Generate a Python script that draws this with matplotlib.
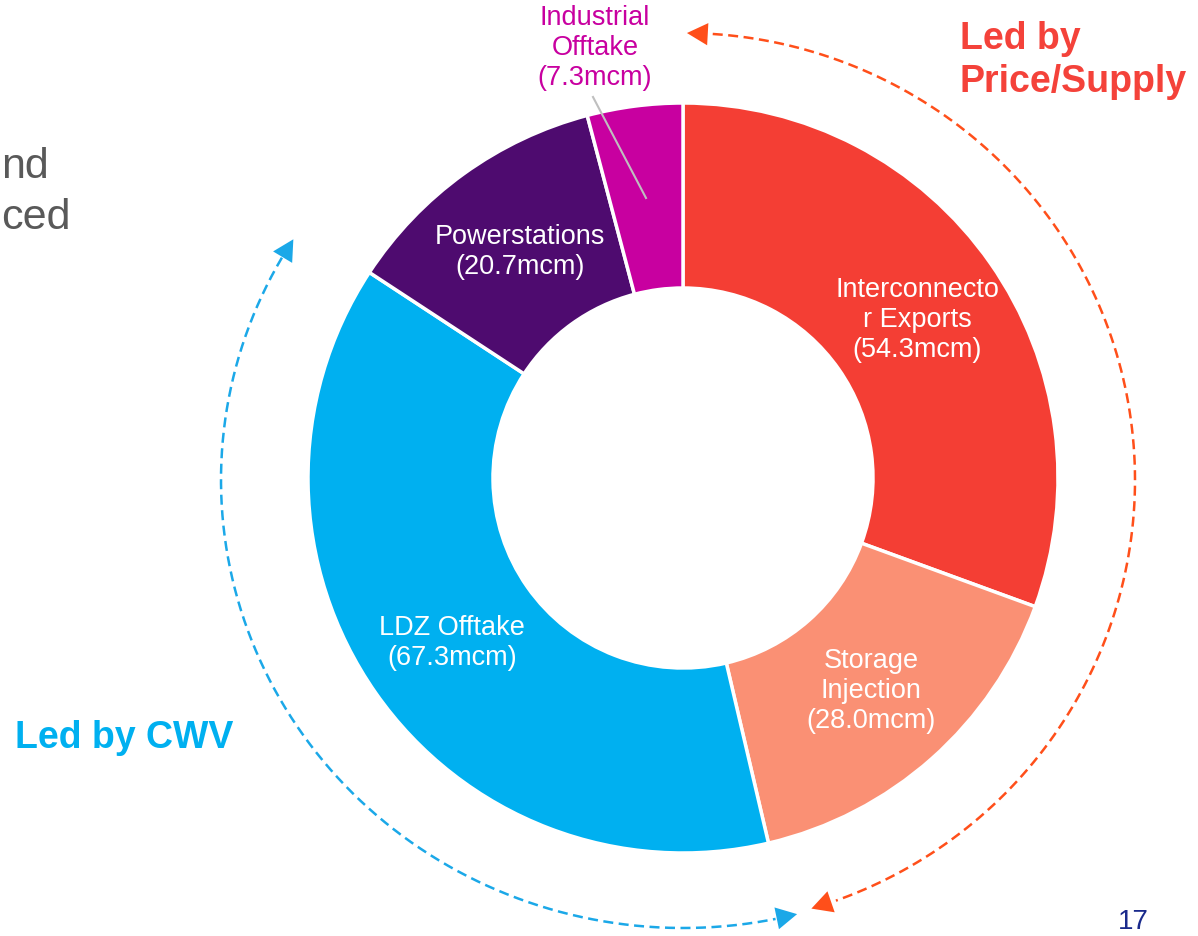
import numpy as np
import matplotlib.pyplot as plt

plt.rcParams['font.family'] = ['Liberation Sans', 'DejaVu Sans']

# demand split (mcm)
labels = ['Interconnecto\nr Exports', 'Storage\nInjection', 'LDZ Offtake',
          'Powerstations', 'Industrial\nOfftake']
values = [54.3, 28.0, 67.3, 20.7, 7.3]
colors = ['#F43E34', '#FA9074', '#00B0F0', '#4E0B6F', '#C800A0']
txt_colors = ['white', 'white', 'white', 'white', '#C800A0']
# label positions (pixels, image coords)
label_xy = [(917, 320), (871, 691), (452, 643), (520, 252), (595, 48)]

W, H = 1198, 936
cx, cy = 683, 478
R = 375

fig = plt.figure(figsize=(W / 100, H / 100), dpi=100)
ax = fig.add_axes([0, 0, 1, 1])

ax.pie(values, colors=colors, startangle=-90, counterclock=True,
       center=(cx, cy), radius=R,
       wedgeprops=dict(width=R - 190, edgecolor='white', linewidth=2.5))

ax.set_xlim(0, W)
ax.set_ylim(H, 0)
ax.set_aspect('equal')
ax.axis('off')

for lab, v, (x, y), c in zip(labels, values, label_xy, txt_colors):
    ax.text(x, y, '%s\n(%.1fmcm)' % (lab, v), color=c, fontsize=19.5,
            ha='center', va='center')

# leader for the small slice
ax.plot([593, 646], [97, 198], color='#BFBFBF', lw=1.5)


def dashed_arc(a0, a1, rx, ry, col):
    a = np.radians(np.linspace(a0, a1, 300))
    xs = cx + rx * np.cos(a)
    ys = cy + 2 - ry * np.sin(a)
    ax.plot(xs[6:-6], ys[6:-6], color=col, lw=1.8, ls=(0, (4, 2.2)))
    for i, j in [(0, 10), (-1, -11)]:
        ax.annotate('', xy=(xs[i], ys[i]), xytext=(xs[j], ys[j]),
                    arrowprops=dict(arrowstyle='-|>,head_length=0.75,head_width=0.4',
                                    color=col, lw=0, mutation_scale=20,
                                    shrinkA=0, shrinkB=0))


dashed_arc(89.5, -73.5, 452, 447, '#FF4F1A')
dashed_arc(147.5, 284.3, 462, 448, '#1BA8E8')

ax.text(960, 21, 'Led by\nPrice/Supply', color='#F4423A', fontsize=27,
        fontweight='bold', ha='left', va='top', linespacing=1.25)
ax.text(15, 748, 'Led by CWV', color='#00B0F0', fontsize=27,
        fontweight='bold', ha='left', va='baseline')

# text cut by the slide edge in the original
ax.text(1, 178, 'nd', color='#595959', fontsize=31, ha='left', va='baseline')
ax.text(1, 229, 'ced', color='#595959', fontsize=31, ha='left', va='baseline')

ax.text(1133, 935, '17', color='#1A2A8C', fontsize=20, ha='center', va='bottom')

fig.savefig('out.png', dpi=100)
